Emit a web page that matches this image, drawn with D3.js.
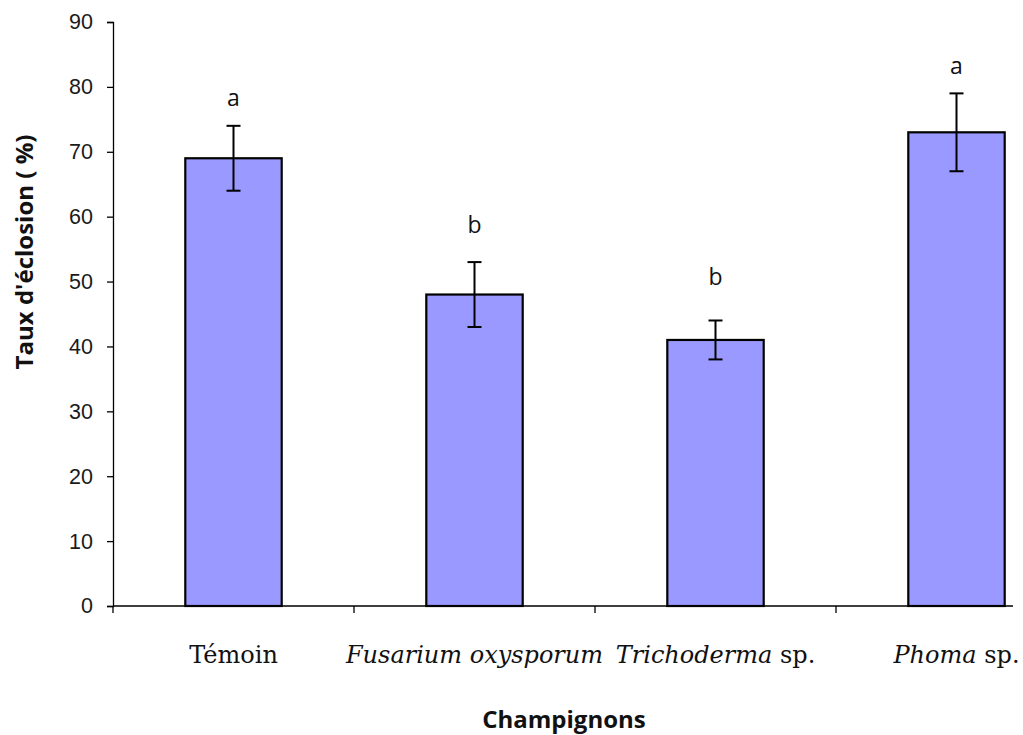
<!DOCTYPE html>
<html>
<head>
<meta charset="utf-8">
<script src="https://cdn.jsdelivr.net/npm/d3@7"></script>
<style>
  body { margin: 0; background: #fff; }
</style>
</head>
<body>
<div id="chart"></div>
<script>
var categories = ['Témoin', 'Fusarium oxysporum', 'Trichoderma sp.', 'Phoma sp.'];
var italicParts = ['', 'Fusarium oxysporum', 'Trichoderma', 'Phoma'];
var plainParts = ['Témoin', '', ' sp.', ' sp.'];
var rates = [69, 48, 41, 73];
var errors = [5, 5, 3, 6];
var letters = ['a', 'b', 'b', 'a'];
var letterLevels = [77, 57.5, 49.5, 82];
var yTicks = [0, 10, 20, 30, 40, 50, 60, 70, 80, 90];

var svgWidth = 1023;
var svgHeight = 735;
var margin = {top: 22, left: 113, bottom: 129};
var plotBottom = svgHeight - margin.bottom;

var svg = d3.select('#chart')
  .append('svg')
  .attr('width', svgWidth)
  .attr('height', svgHeight);

var xScale = d3.scaleBand()
  .domain(categories)
  .range([margin.left, margin.left + 4 * 241])
  .paddingInner(0.6)
  .paddingOuter(0.3);

var yScale = d3.scaleLinear()
  .domain([0, 90])
  .range([plotBottom, margin.top]);

// y axis
var yAxis = d3.axisLeft(yScale).tickValues(yTicks).tickSize(6).tickPadding(14);
var yg = svg.append('g')
  .attr('transform', 'translate(' + margin.left + ',0)')
  .call(yAxis);
yg.select('.domain').attr('stroke', '#000').attr('stroke-width', 1.3);
yg.selectAll('.tick line').attr('stroke', '#000').attr('stroke-width', 1.3);
yg.selectAll('.tick text')
  .attr('font-family', 'Liberation Sans, Arial, sans-serif')
  .attr('font-size', 21.5)
  .attr('fill', '#1a1a1a');

// x axis line and category separators
var step = xScale.step();
var bandStart = function (d) { return xScale(d) - xScale.paddingOuter() * step; };
svg.append('line')
  .attr('x1', margin.left).attr('x2', 1013)
  .attr('y1', plotBottom).attr('y2', plotBottom)
  .attr('stroke', '#000').attr('stroke-width', 1.3);
svg.append('g').selectAll('line')
  .data(categories)
  .enter()
  .append('line')
  .attr('x1', function (d) { return bandStart(d); })
  .attr('x2', function (d) { return bandStart(d); })
  .attr('y1', plotBottom)
  .attr('y2', plotBottom + 7)
  .attr('stroke', '#000').attr('stroke-width', 1.3);

// bars
svg.append('g').selectAll('rect')
  .data(rates)
  .enter()
  .append('rect')
  .attr('x', function (d, i) { return xScale(categories[i]); })
  .attr('y', function (d) { return yScale(d); })
  .attr('width', xScale.bandwidth())
  .attr('height', function (d) { return plotBottom - yScale(d); })
  .attr('fill', '#9999FF')
  .attr('stroke', '#000')
  .attr('stroke-width', 2.2);

// error bars
var eb = svg.append('g').selectAll('g')
  .data(rates)
  .enter()
  .append('g')
  .attr('transform', function (d, i) {
    return 'translate(' + (xScale(categories[i]) + xScale.bandwidth() / 2) + ',0)';
  });
eb.append('line')
  .attr('y1', function (d, i) { return yScale(d - errors[i]); })
  .attr('y2', function (d, i) { return yScale(d + errors[i]); })
  .attr('stroke', '#000').attr('stroke-width', 2);
eb.append('line')
  .attr('x1', -7).attr('x2', 7)
  .attr('y1', function (d, i) { return yScale(d + errors[i]); })
  .attr('y2', function (d, i) { return yScale(d + errors[i]); })
  .attr('stroke', '#000').attr('stroke-width', 2);
eb.append('line')
  .attr('x1', -7).attr('x2', 7)
  .attr('y1', function (d, i) { return yScale(d - errors[i]); })
  .attr('y2', function (d, i) { return yScale(d - errors[i]); })
  .attr('stroke', '#000').attr('stroke-width', 2);

// significance letters
svg.append('g').selectAll('text')
  .data(letters)
  .enter()
  .append('text')
  .attr('x', function (d, i) { return xScale(categories[i]) + xScale.bandwidth() / 2; })
  .attr('y', function (d, i) { return yScale(letterLevels[i]); })
  .attr('text-anchor', 'middle')
  .attr('font-family', 'Open Sans, sans-serif')
  .attr('font-size', 23)
  .attr('fill', '#111')
  .text(function (d) { return d; });

// category labels
var labels = svg.append('g').selectAll('text')
  .data(categories)
  .enter()
  .append('text')
  .attr('x', function (d) { return xScale(d) + xScale.bandwidth() / 2; })
  .attr('y', 663)
  .attr('text-anchor', 'middle')
  .attr('font-family', 'DejaVu Serif, serif')
  .attr('font-size', 24)
  .attr('fill', '#111');
labels.append('tspan')
  .attr('font-style', 'italic')
  .text(function (d, i) { return italicParts[i]; });
labels.append('tspan')
  .text(function (d, i) { return plainParts[i]; });

// axis titles
svg.append('text')
  .attr('transform', 'translate(33,252) rotate(-90)')
  .attr('text-anchor', 'middle')
  .attr('font-family', 'Open Sans, sans-serif')
  .attr('font-weight', 'bold')
  .attr('font-size', 24)
  .attr('fill', '#111')
  .text("Taux d'éclosion ( %)");

svg.append('text')
  .attr('x', 564)
  .attr('y', 728)
  .attr('text-anchor', 'middle')
  .attr('font-family', 'Open Sans, sans-serif')
  .attr('font-weight', 'bold')
  .attr('font-size', 24)
  .attr('fill', '#111')
  .text('Champignons');
</script>
</body>
</html>
